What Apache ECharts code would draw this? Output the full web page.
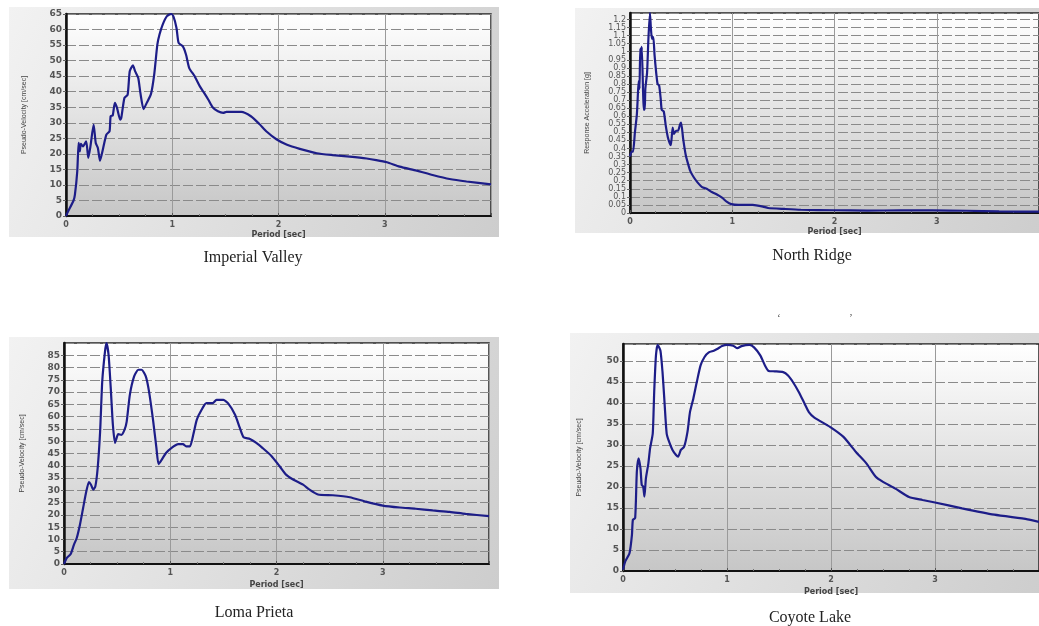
<!DOCTYPE html>
<html><head><meta charset="utf-8">
<script src="https://cdn.jsdelivr.net/npm/echarts@6/dist/echarts.min.js"></script>
<style>html,body{margin:0;padding:0;background:#fff;}#c{width:1039px;height:626px;}</style>
</head><body><div id="c"></div>
<script>
// Imperial Valley: period [sec], pseudo-velocity [cm/sec]
const ivT = [0,0.02,0.07,0.084,0.106,0.119,0.13,0.14,0.16,0.19,0.21,0.23,0.26,0.28,0.30,0.32,0.35,0.38,0.41,0.42,0.44,0.46,0.48,0.51,0.52,0.55,0.58,0.60,0.63,0.65,0.68,0.70,0.73,0.76,0.80,0.83,0.86,0.88,0.91,0.95,0.99,1.01,1.04,1.06,1.10,1.13,1.16,1.21,1.26,1.30,1.34,1.38,1.43,1.48,1.51,1.57,1.65,1.74,1.82,1.89,1.98,2.08,2.20,2.36,2.51,2.67,2.83,2.92,3.02,3.14,3.30,3.45,3.61,3.77,4.0];
const ivV = [0,1.5,4.9,6.9,14.4,23.5,20.8,23.2,22.4,24,18.7,22.4,29.4,23.5,21.9,17.8,21.9,26.2,27.3,32.1,32.4,36.4,34.8,31,31.5,38,39,46.6,48.5,46.6,44.4,39.6,34.4,36.4,39.3,45.5,55.2,58.4,61.6,64.3,65,64.3,60.5,55.7,54.6,51.9,47.6,45,41.7,39.6,37.4,35,33.7,33.2,33.5,33.5,33.5,32.1,29.6,27.1,24.7,22.9,21.6,20.2,19.6,19.1,18.5,18.0,17.3,15.9,14.6,13.2,11.9,11.1,10.2];

// North Ridge: period [sec], response acceleration [g]
const nrT = [0,0.016,0.03,0.048,0.067,0.08,0.087,0.093,0.10,0.11,0.115,0.128,0.135,0.144,0.15,0.167,0.18,0.195,0.205,0.215,0.228,0.24,0.256,0.27,0.285,0.30,0.31,0.33,0.35,0.37,0.39,0.40,0.417,0.43,0.45,0.47,0.49,0.50,0.52,0.545,0.57,0.59,0.625,0.66,0.705,0.75,0.80,0.85,0.90,0.945,0.99,1.06,1.2,1.30,1.35,1.51,1.67,2.0,2.32,2.64,2.96,3.29,3.61,4.0];
const nrA = [0.35,0.38,0.38,0.50,0.61,0.77,0.82,0.77,1.02,0.96,1.03,0.75,0.64,0.64,0.77,0.87,1.08,1.24,1.14,1.08,1.09,0.98,0.87,0.80,0.79,0.71,0.64,0.63,0.54,0.47,0.43,0.42,0.53,0.49,0.51,0.51,0.55,0.56,0.46,0.36,0.30,0.26,0.22,0.19,0.16,0.15,0.13,0.115,0.095,0.07,0.055,0.05,0.05,0.04,0.031,0.025,0.02,0.017,0.015,0.016,0.016,0.014,0.01,0.008];

// Loma Prieta: period [sec], pseudo-velocity [cm/sec]
const lpT = [0,0.025,0.063,0.094,0.12,0.15,0.18,0.21,0.235,0.254,0.276,0.295,0.317,0.34,0.36,0.386,0.40,0.42,0.44,0.46,0.48,0.495,0.51,0.54,0.57,0.59,0.62,0.66,0.70,0.73,0.77,0.80,0.84,0.87,0.89,0.92,0.96,1.01,1.075,1.12,1.15,1.185,1.22,1.25,1.295,1.34,1.40,1.435,1.50,1.545,1.61,1.655,1.69,1.75,1.81,1.87,1.95,2.03,2.09,2.16,2.25,2.31,2.39,2.53,2.69,2.84,3.0,3.16,3.31,3.47,3.63,3.78,4.0];
const lpV = [0,2.4,4.1,7.9,10.6,16,22.8,29.6,33.4,32.3,30.3,31.6,39.1,54,74.4,86.6,90,85,71.6,56.7,49.3,51.3,52.9,52.6,54.7,58,69,76.4,79.1,79.1,76.4,70.3,58,47.2,40.7,42.5,45.2,47.2,48.8,48.8,47.9,47.9,53.3,58.8,62.8,65.5,65.5,66.8,66.8,65.4,60.8,55.4,51.6,50.9,49.3,47.2,44.1,39.8,36.4,34.3,32.3,30.3,28.3,28,27.2,25.4,23.8,23,22.5,21.8,21.2,20.4,19.5];

// Coyote Lake: period [sec], pseudo-velocity [cm/sec]
const clT = [0,0.022,0.063,0.086,0.095,0.117,0.133,0.15,0.168,0.18,0.194,0.206,0.22,0.244,0.26,0.286,0.30,0.317,0.333,0.36,0.38,0.397,0.42,0.444,0.476,0.51,0.53,0.556,0.587,0.62,0.644,0.676,0.71,0.746,0.784,0.825,0.873,0.905,0.952,1.0,1.06,1.10,1.14,1.216,1.26,1.32,1.365,1.40,1.46,1.54,1.587,1.635,1.69,1.746,1.787,1.84,1.99,2.12,2.24,2.34,2.43,2.50,2.62,2.75,2.88,3.0,3.26,3.57,3.89,4.0];
const clV = [0.3,2.3,4.3,8.6,12.2,12.6,23.6,26.8,24.4,20.5,20.1,17.7,22,25.6,29.1,32.7,42.6,51.3,53.8,52.4,47.3,41,32.7,30.7,28.8,27.6,27.2,28.8,29.5,33.1,37.8,41,45,48.9,50.9,52,52.4,52.8,53.5,53.8,53.6,53,53.5,53.8,53.2,51.3,48.9,47.6,47.5,47.3,46.5,44.9,42.6,39.8,37.8,36.5,34.3,31.9,28.3,25.6,22.4,21.2,19.6,17.6,16.9,16.3,14.9,13.4,12.3,11.7];

const captions = ['Imperial Valley','North Ridge','Loma Prieta','Coyote Lake'];
const yNames = ['Pseudo-Velocity [cm/sec]','Response Acceleration [g]','Pseudo-Velocity [cm/sec]','Pseudo-Velocity [cm/sec]'];
const xName = 'Period [sec]';

const pairs = (t, v) => t.map((x, i) => [x, v[i]]);
const seriesData = [pairs(ivT, ivV), pairs(nrT, nrA), pairs(lpT, lpV), pairs(clT, clV)];

const grids = [
  {left: 66, top: 14, width: 425, height: 202},
  {left: 630, top: 13, width: 416, height: 200},
  {left: 64, top: 343, width: 425, height: 221},
  {left: 623, top: 344, width: 420, height: 227}
];
const yMax = [65, 1.24, 90, 54];
const yInt = [5, 0.05, 5, 5];
const yNameGap = [38, 39, 38, 40];
const yFont = [9, 8, 9, 9];

const plotBg = {type: 'linear', x: 0, y: 0, x2: 0, y2: 1,
  colorStops: [{offset: 0, color: '#ffffff'}, {offset: 1, color: '#c6c6c6'}]};
const panelBg = {type: 'linear', x: 0, y: 0, x2: 1, y2: 1,
  colorStops: [{offset: 0, color: '#f2f2f2'}, {offset: 1, color: '#cdcdcd'}]};

const panels = [
  {x: 9, y: 7, w: 490, h: 230},
  {x: 575, y: 8, w: 470, h: 225},
  {x: 9, y: 337, w: 490, h: 252},
  {x: 570, y: 333, w: 475, h: 260}
];
const capPos = [[253, 258], [812, 256], [254, 613], [810, 618]];

const option = {
  animation: false,
  backgroundColor: '#ffffff',
  graphic: [
    ...panels.map(p => ({type: 'rect', z: -10, shape: {x: p.x, y: p.y, width: p.w, height: p.h}, style: {fill: panelBg}})),
    ...captions.map((c, i) => ({type: 'text', x: capPos[i][0], y: capPos[i][1],
      style: {text: c, fill: '#222', font: '16px "Liberation Serif", serif', textAlign: 'center', textVerticalAlign: 'middle'}})),
    {type: 'text', x: 779, y: 318, style: {text: '\u2018', fill: '#333', font: '10px "Liberation Serif"', textAlign: 'center', textVerticalAlign: 'middle'}},
    {type: 'text', x: 851, y: 318, style: {text: '\u2019', fill: '#333', font: '10px "Liberation Serif"', textAlign: 'center', textVerticalAlign: 'middle'}}
  ],
  grid: grids.map(g => Object.assign({show: true, backgroundColor: plotBg, borderColor: '#222', borderWidth: 1.5, containLabel: false}, g)),
  xAxis: grids.map((g, i) => ({
    type: 'value', gridIndex: i, min: 0, max: 4, interval: 1,
    name: xName, nameLocation: 'middle', nameGap: i < 2 ? 15 : 17,
    nameTextStyle: {fontFamily: 'DejaVu Sans', fontSize: 8, fontWeight: 'bold', color: '#444'},
    axisLine: {show: true, lineStyle: {color: '#111', width: 2}},
    axisTick: {show: true, inside: true, length: 3, lineStyle: {color: '#555'}},
    minorTick: {show: true, splitNumber: 4, length: 2, lineStyle: {color: '#777'}},
    axisLabel: {fontFamily: 'DejaVu Sans', fontSize: 8, fontWeight: 'bold', color: '#555', margin: 5, showMaxLabel: false},
    splitLine: {show: true, lineStyle: {color: '#9a9a9a', width: 1}}
  })),
  yAxis: grids.map((g, i) => ({
    type: 'value', gridIndex: i, min: 0, max: yMax[i], interval: yInt[i],
    name: yNames[i], nameLocation: 'middle', nameGap: yNameGap[i], nameRotate: 90,
    nameTextStyle: {fontFamily: '"Liberation Sans Narrow", "Liberation Sans", sans-serif', fontSize: 7, color: '#444'},
    axisLine: {show: true, lineStyle: {color: '#111', width: 2.5}},
    axisTick: {show: true, length: 3, lineStyle: {color: '#666'}},
    axisLabel: {fontFamily: 'DejaVu Sans', fontSize: yFont[i], fontWeight: i === 1 ? 'normal' : 'bold', color: '#555', margin: 4,
      showMaxLabel: i === 0,
      formatter: v => i === 1 ? String(Math.round(v * 100) / 100) : String(v)},
    splitLine: {show: true, lineStyle: {color: '#8a8a8a', width: 1, type: [10, 3]}}
  })),
  series: seriesData.map((d, i) => ({
    type: 'line', xAxisIndex: i, yAxisIndex: i, data: d, showSymbol: false, symbol: 'none',
    smooth: 0.2, lineStyle: {color: '#1d1d88', width: 2.2}, z: 5
  }))
};
const chart = echarts.init(document.getElementById('c'), null, {renderer: 'canvas'});
chart.setOption(option);
</script>
</body></html>
